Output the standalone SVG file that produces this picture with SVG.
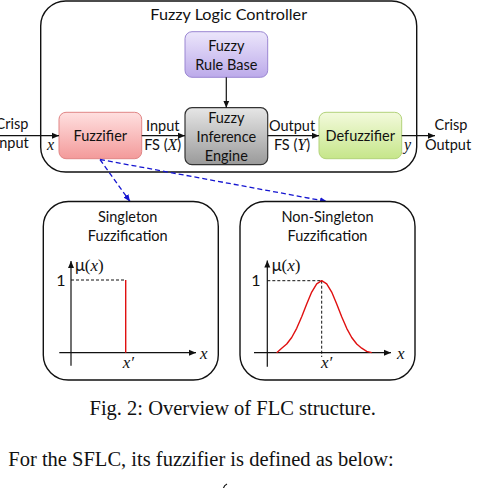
<svg xmlns="http://www.w3.org/2000/svg" width="478" height="488" viewBox="0 0 478 488">
<style>
.t{font-family:Lato,"Open Sans","Liberation Sans",sans-serif;font-size:14.5px;fill:#111}
.c{text-anchor:middle}
.m{font-family:"Liberation Serif","Times New Roman",serif;font-style:italic;font-size:16px;fill:#111}
.r{font-family:"Liberation Serif","Times New Roman",serif;font-size:16px;fill:#111}
.cap{font-family:"Liberation Serif","Times New Roman",serif;font-size:20.5px;fill:#111}
.box{fill:#fff;stroke:#111;stroke-width:1.4}
.ln{stroke:#111;stroke-width:1.2;fill:none}
.dash{stroke:#111;stroke-width:1;stroke-dasharray:3,2;fill:none}
.bl{stroke:#1515d0;stroke-width:1.3;stroke-dasharray:5,3;fill:none}
</style>
<defs>
<marker id="ah" markerWidth="8" markerHeight="8" refX="7" refY="4" orient="auto" markerUnits="userSpaceOnUse"><path d="M0,1 L7,4 L0,7 z" fill="#111"/></marker>
<marker id="bh" markerWidth="8" markerHeight="8" refX="7" refY="4" orient="auto" markerUnits="userSpaceOnUse"><path d="M0,1 L7,4 L0,7 z" fill="#1515d0"/></marker>
<linearGradient id="gp" x1="0" y1="0" x2="0" y2="1"><stop offset="0" stop-color="#ece6fb"/><stop offset="1" stop-color="#bcaaea"/></linearGradient>
<linearGradient id="gg" x1="0" y1="0" x2="0" y2="1"><stop offset="0" stop-color="#e6e6e6"/><stop offset="1" stop-color="#9a9a9a"/></linearGradient>
<linearGradient id="gr" x1="0" y1="0" x2="0" y2="1"><stop offset="0" stop-color="#ffe0e0"/><stop offset="1" stop-color="#f39a9a"/></linearGradient>
<linearGradient id="gn" x1="0" y1="0" x2="0" y2="1"><stop offset="0" stop-color="#f3fadc"/><stop offset="1" stop-color="#c6e68a"/></linearGradient>
</defs>

<g id="flc">
<rect class="box" x="40.7" y="1" width="376" height="171" rx="25"/>
<text class="t c" x="228.7" y="19.5" style="font-size:16.2px">Fuzzy Logic Controller</text>
</g>

<g id="rulebase">
<rect x="185" y="31.7" width="82.7" height="45.6" rx="7" fill="url(#gp)" stroke="#9a86d2" stroke-width="1"/>
<text class="t c" x="226.3" y="51">Fuzzy</text>
<text class="t c" x="226.3" y="70">Rule Base</text>
</g>

<g id="inference">
<rect x="185" y="107.7" width="82.7" height="57" rx="7" fill="url(#gg)" stroke="#333" stroke-width="1.2"/>
<text class="t c" x="226.3" y="123">Fuzzy</text>
<text class="t c" x="226.3" y="142">Inference</text>
<text class="t c" x="226.3" y="161">Engine</text>
</g>

<g id="fuzzifier">
<rect x="59" y="112.3" width="82.7" height="46.4" rx="7" fill="url(#gr)" stroke="#e08585" stroke-width="1"/>
<text class="t c" x="100.3" y="141">Fuzzifier</text>
</g>

<g id="defuzzifier">
<rect x="319" y="112.3" width="82.7" height="46.4" rx="7" fill="url(#gn)" stroke="#b2d27a" stroke-width="1"/>
<text class="t c" x="360.3" y="141">Defuzzifier</text>
</g>

<g id="labels">
<text class="t c" x="12" y="129">Crisp</text>
<text class="t c" x="12" y="148">Input</text>
<text class="m" x="47" y="150">x</text>
<text class="t c" x="162.7" y="131">Input</text>
<text class="t c" x="162.7" y="150">FS (<tspan class="m">X</tspan>)</text>
<text class="t c" x="292" y="131">Output</text>
<text class="t c" x="292" y="150">FS (<tspan class="m">Y</tspan>)</text>
<text class="m" x="404" y="150">y</text>
<text class="t c" x="451" y="130">Crisp</text>
<text class="t c" x="448" y="150">Output</text>
</g>

<g id="connectors">
<line class="ln" x1="0" y1="135.7" x2="59" y2="135.7" marker-end="url(#ah)"/>
<line class="ln" x1="141.7" y1="135.7" x2="185" y2="135.7" marker-end="url(#ah)"/>
<line class="ln" x1="267.7" y1="135.7" x2="319" y2="135.7" marker-end="url(#ah)"/>
<line class="ln" x1="401.7" y1="135.7" x2="435" y2="135.7" marker-end="url(#ah)"/>
<line class="ln" x1="226.3" y1="77.3" x2="226.3" y2="107.7" marker-end="url(#ah)"/>
<line class="bl" x1="100" y1="159.5" x2="130" y2="201.5" marker-end="url(#bh)"/>
<line class="bl" x1="100" y1="159.5" x2="327" y2="201.5" marker-end="url(#bh)"/>
</g>

<g id="singleton">
<rect class="box" x="43.3" y="201.5" width="175" height="178.5" rx="25"/>
<text class="t c" x="127.7" y="222">Singleton</text>
<text class="t c" x="127.7" y="240.5">Fuzzification</text>
<line class="ln" x1="71" y1="365.7" x2="71" y2="261" marker-end="url(#ah)"/>
<line class="ln" x1="59.3" y1="352.7" x2="196" y2="352.7" marker-end="url(#ah)"/>
<text class="m" x="200" y="359" style="font-size:17px">x</text>
<text class="t" x="75" y="270.5" style="font-size:16.5px">μ<tspan class="r" style="font-size:17px">(</tspan><tspan class="m" style="font-size:17px">x</tspan><tspan class="r" style="font-size:17px">)</tspan></text>
<text class="t c" x="61" y="285.5" style="font-size:16px">1</text>
<line class="dash" x1="71" y1="280" x2="125.7" y2="280"/>
<line x1="125.7" y1="280" x2="125.7" y2="352.7" stroke="#e01010" stroke-width="1.4"/>
<text class="m c" x="128.3" y="368" style="font-size:17px">x′</text>
</g>

<g id="nonsingleton">
<rect class="box" x="240" y="201.5" width="175" height="178.5" rx="25"/>
<text class="t c" x="327.5" y="222">Non-Singleton</text>
<text class="t c" x="327.5" y="240.5">Fuzzification</text>
<line class="ln" x1="267.3" y1="366.7" x2="267.3" y2="260.5" marker-end="url(#ah)"/>
<line class="ln" x1="254" y1="352.7" x2="391" y2="352.7" marker-end="url(#ah)"/>
<text class="m" x="397" y="359" style="font-size:17px">x</text>
<text class="t" x="271.7" y="270.5" style="font-size:16.5px">μ<tspan class="r" style="font-size:17px">(</tspan><tspan class="m" style="font-size:17px">x</tspan><tspan class="r" style="font-size:17px">)</tspan></text>
<text class="t c" x="256" y="285.5" style="font-size:16px">1</text>
<line class="dash" x1="267.3" y1="280.7" x2="321.7" y2="280.7"/>
<line class="dash" x1="321.7" y1="280.7" x2="321.7" y2="357"/>
<polyline fill="none" stroke="#e01010" stroke-width="1.4" stroke-linejoin="round" points="276.7,352.7 281.7,348.2 286.7,344 291.7,337.5 296.7,328.3 301.7,316.7 306.7,303.9 311.7,292.1 316.7,283.8 321.7,280.7 326.7,283.8 331.7,292.1 336.7,303.9 341.7,316.7 346.7,328.3 351.7,337.5 356.7,344 361.7,348.2 366.7,351.3 371.7,352.7"/>
<text class="m c" x="326.7" y="368" style="font-size:17px">x′</text>
</g>

<g id="caption">
<text class="cap c" x="232.7" y="415">Fig. 2: Overview of FLC structure.</text>
<text class="cap" x="8.3" y="465.5">For the SFLC, its fuzzifier is defined as below:</text>
<path d="M227,484 Q224,485.5 223.5,488" fill="none" stroke="#111" stroke-width="1.2"/>
</g>
</svg>
